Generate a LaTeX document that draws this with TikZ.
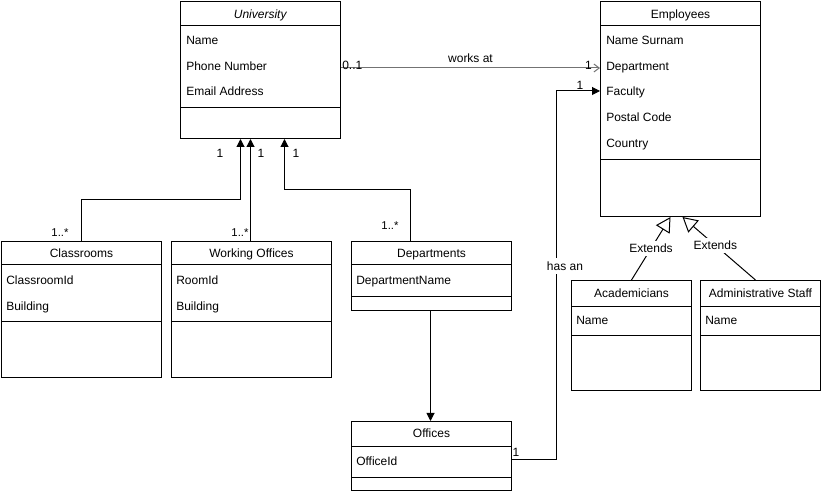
\documentclass[tikz,border=0pt]{standalone}
\usepackage{fontspec}
\setmainfont{Liberation Sans}
\usetikzlibrary{shapes,arrows,positioning,calc,arrows.meta}

\tikzset{
  classbox/.style={draw, rectangle, anchor=north west, inner sep=0pt, line width=0.75pt},
  sepline/.style={line width=0.75pt},
  ctitle/.style={inner sep=0pt, text height=8pt, text depth=1.5pt, font=\fontsize{9}{11}\selectfont},
  attr/.style={anchor=west, inner sep=0pt, text height=8pt, text depth=1.5pt, font=\fontsize{9}{11}\selectfont},
  mult/.style={inner sep=0pt, font=\fontsize{9}{11}\selectfont},
  multsmall/.style={inner sep=0pt, font=\fontsize{8.5}{10}\selectfont},
  assoc/.style={line width=0.75pt, -{Triangle[length=6pt,width=6pt]}},
  openassoc/.style={line width=0.75pt, draw=black!55, -{Straight Barb[length=4pt,width=6pt]}},
  inherit/.style={line width=0.75pt, -{Triangle[open,length=11pt,width=12pt]}},
}

\begin{document}
\begin{tikzpicture}[x=0.75pt, y=-0.75pt]
\useasboundingbox (0,0) rectangle (821,491);

% University
\node[classbox, minimum width=120pt, minimum height=102.75pt] (univ) at (180,1) {};
\draw[sepline] ($(univ.north west)+(0,25)$) -- ($(univ.north east)+(0,25)$);
\draw[sepline] ($(univ.north west)+(0,107)$) -- ($(univ.north east)+(0,107)$);
\node[ctitle] (univT) at ($(univ.north)+(0,13)$) {\textit{University}};
\node[attr] (univA) at ($(univ.north west)+(6,39)$) {Name};
\node[attr] (univB) at ($(univ.north west)+(6,65)$) {Phone Number};
\node[attr] (univC) at ($(univ.north west)+(6,90)$) {Email Address};

% Employees
\node[classbox, minimum width=120pt, minimum height=161.25pt] (emp) at (600,1) {};
\draw[sepline] ($(emp.north west)+(0,25)$) -- ($(emp.north east)+(0,25)$);
\draw[sepline] ($(emp.north west)+(0,159)$) -- ($(emp.north east)+(0,159)$);
\node[ctitle] (empT) at ($(emp.north)+(0,13)$) {Employees};
\node[attr] (empA) at ($(emp.north west)+(6,39)$) {Name Surnam};
\node[attr] (empB) at ($(emp.north west)+(6,65)$) {Department};
\node[attr] (empC) at ($(emp.north west)+(6,90)$) {Faculty};
\node[attr] (empD) at ($(emp.north west)+(6,116)$) {Postal Code};
\node[attr] (empE) at ($(emp.north west)+(6,142)$) {Country};

% Classrooms
\node[classbox, minimum width=120pt, minimum height=102pt] (class) at (1,241) {};
\draw[sepline] ($(class.north west)+(0,24)$) -- ($(class.north east)+(0,24)$);
\draw[sepline] ($(class.north west)+(0,81)$) -- ($(class.north east)+(0,81)$);
\node[ctitle] (classT) at ($(class.north)+(0,12.5)$) {Classrooms};
\node[attr] (classA) at ($(class.north west)+(5,39)$) {ClassroomId};
\node[attr] (classB) at ($(class.north west)+(5,65)$) {Building};

% Working Offices
\node[classbox, minimum width=120pt, minimum height=102pt] (work) at (171,241) {};
\draw[sepline] ($(work.north west)+(0,24)$) -- ($(work.north east)+(0,24)$);
\draw[sepline] ($(work.north west)+(0,81)$) -- ($(work.north east)+(0,81)$);
\node[ctitle] (workT) at ($(work.north)+(0,12.5)$) {Working Offices};
\node[attr] (workA) at ($(work.north west)+(5,39)$) {RoomId};
\node[attr] (workB) at ($(work.north west)+(5,65)$) {Building};

% Departments
\node[classbox, minimum width=120pt, minimum height=51.75pt] (dept) at (351,241) {};
\draw[sepline] ($(dept.north west)+(0,24)$) -- ($(dept.north east)+(0,24)$);
\draw[sepline] ($(dept.north west)+(0,56)$) -- ($(dept.north east)+(0,56)$);
\node[ctitle] (deptT) at ($(dept.north)+(0,12.5)$) {Departments};
\node[attr] (deptA) at ($(dept.north west)+(5,39)$) {DepartmentName};

% Offices
\node[classbox, minimum width=120pt, minimum height=51.75pt] (off) at (351,421) {};
\draw[sepline] ($(off.north west)+(0,25)$) -- ($(off.north east)+(0,25)$);
\draw[sepline] ($(off.north west)+(0,56)$) -- ($(off.north east)+(0,56)$);
\node[ctitle] (offT) at ($(off.north)+(0,12.5)$) {Offices};
\node[attr] (offA) at ($(off.north west)+(5,40)$) {OfficeId};

% Academicians
\node[classbox, minimum width=90pt, minimum height=82.5pt] (acad) at (571,280) {};
\draw[sepline] ($(acad.north west)+(0,27)$) -- ($(acad.north east)+(0,27)$);
\draw[sepline] ($(acad.north west)+(0,56)$) -- ($(acad.north east)+(0,56)$);
\node[ctitle] (acadT) at ($(acad.north)+(0,13.5)$) {Academicians};
\node[attr] (acadA) at ($(acad.north west)+(5,40)$) {Name};

% Administrative Staff
\node[classbox, minimum width=90pt, minimum height=82.5pt] (admin) at (700,280) {};
\draw[sepline] ($(admin.north west)+(0,27)$) -- ($(admin.north east)+(0,27)$);
\draw[sepline] ($(admin.north west)+(0,56)$) -- ($(admin.north east)+(0,56)$);
\node[ctitle] (adminT) at ($(admin.north)+(0,13.5)$) {Administrative Staff};
\node[attr] (adminA) at ($(admin.north west)+(5,40)$) {Name};

% works at
\draw[openassoc] ($(univ.north east)+(0,67)$) -- node[ctitle, above=2pt] (worksat) {works at} ($(emp.north west)+(0,67)$);
\node[mult, anchor=south west] (m01) at ($(univ.north east)+(1,69)$) {0..1};
\node[mult, anchor=south east] (m1a) at ($(emp.north west)+(-8,69)$) {1};

% has an
\draw[assoc] ($(off.north east)+(0,38)$) -- ++(44,0) |- ($(emp.north west)+(0,90)$);
\node[mult] (m1b) at ($(off.north east)+(4,31)$) {1};
\node[mult] (m1c) at ($(emp.north west)+(-20,84)$) {1};
\node[ctitle, fill=white, inner sep=1pt] (hasan) at (565,266) {has an};

% to University
\draw[assoc] (class.north) -- ++(0,-41) -| ($(univ.south)+(-20,0)$);
\draw[assoc] ($(work.north)+(-1,0)$) -- ($(univ.south)+(-10,0)$);
\draw[assoc] ($(dept.north)+(-21,0)$) -- ++(0,-51) -| ($(univ.south)+(24,0)$);
\node[mult] (m1d) at (220,153) {1};
\node[mult] (m1e) at (261,153) {1};
\node[mult] (m1f) at (296,153) {1};
\node[multsmall] (m1g) at (60,233) {1..*};
\node[multsmall] (m1h) at (240,233) {1..*};
\node[multsmall] (m1i) at (390,226) {1..*};

% Departments to Offices
\draw[assoc] ($(dept.south)+(-1,0)$) -- ($(off.north)+(-1,0)$);

% Extends
\draw[inherit] (acad.north) -- node[ctitle, fill=white, inner sep=1pt] (ext1) {Extends} ($(emp.south)+(-10,0)$);
\draw[inherit] ($(admin.north)+(-5,0)$) -- node[ctitle, fill=white, inner sep=1pt, pos=0.55] (ext2) {Extends} ($(emp.south)+(2,0)$);

\end{tikzpicture}
\end{document}
